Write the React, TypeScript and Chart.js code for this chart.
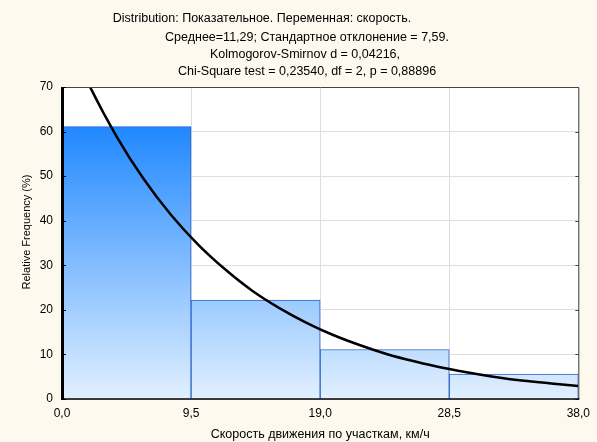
import { useEffect, useRef } from 'react';
import { Chart, registerables } from 'chart.js';

Chart.register(...registerables);

// Histogram bins (km/h) and relative frequencies (%)
const binCenters = [4.75, 14.25, 23.75, 33.25];
const binFreq = [61.1, 22.2, 11.1, 5.6];

// Fitted exponential curve
const curveX = [0, 1, 2, 4, 6, 8, 10, 12, 14, 16, 18, 20, 22, 24, 26, 28, 30, 32, 34, 36, 38];
const curveY = [84.1, 77.0, 70.4, 59.0, 49.4, 41.4, 34.7, 29.1, 24.3, 20.4, 17.1, 14.3, 12.0, 10.0, 8.4, 7.0, 5.9, 4.9, 4.1, 3.5, 2.9];

const xTicks = [0, 9.5, 19, 28.5, 38];
const yTicks = [0, 10, 20, 30, 40, 50, 60, 70];

const titleLines = [
  'Distribution: Показательное. Переменная: скорость.',
  'Среднее=11,29; Стандартное отклонение = 7,59.',
  'Kolmogorov-Smirnov d = 0,04216,',
  'Chi-Square test = 0,23540, df = 2, p = 0,88896',
];
const xTitle = 'Скорость движения по участкам, км/ч';
const yTitle = 'Relative Frequency (%)';

const FONT_FAMILY = 'Arial, "Liberation Sans", sans-serif';
const BG = '#fdf9ee';

export default function App() {
  const ref = useRef<HTMLCanvasElement>(null);

  useEffect(() => {
    document.body.style.margin = '0';
    const canvas = ref.current;
    if (!canvas) return;

    const font = { family: FONT_FAMILY, size: 12 };

    const decor = {
      id: 'decor',
      beforeDraw(chart: any) {
        const { ctx, chartArea: a, width, height } = chart;
        ctx.save();
        ctx.fillStyle = BG;
        ctx.fillRect(0, 0, width, height);
        ctx.fillStyle = '#ffffff';
        ctx.fillRect(a.left, a.top, a.right - a.left, a.bottom - a.top);
        ctx.restore();
      },
      afterDraw(chart: any) {
        const { ctx, chartArea: a } = chart;
        const ys = chart.scales.y;
        ctx.save();
        // top & right frame
        ctx.strokeStyle = '#444';
        ctx.lineWidth = 1;
        ctx.beginPath();
        ctx.moveTo(a.left, a.top + 0.5);
        ctx.lineTo(a.right + 0.5, a.top + 0.5);
        ctx.lineTo(a.right + 0.5, a.bottom);
        ctx.stroke();
        // right axis small ticks
        ctx.beginPath();
        yTicks.forEach((v) => {
          const py = Math.round(ys.getPixelForValue(v)) + 0.5;
          ctx.moveTo(a.right - 3, py);
          ctx.lineTo(a.right + 0.5, py);
        });
        ctx.stroke();
        // bottom axis
        ctx.strokeStyle = '#000';
        ctx.lineWidth = 1.5;
        ctx.beginPath();
        ctx.moveTo(a.left, a.bottom);
        ctx.lineTo(a.right + 1, a.bottom);
        ctx.stroke();
        // left axis (thick)
        ctx.lineWidth = 3;
        ctx.beginPath();
        ctx.moveTo(a.left + 0.5, a.top);
        ctx.lineTo(a.left + 0.5, a.bottom + 1);
        ctx.stroke();
        // left inward ticks
        ctx.lineWidth = 1;
        ctx.beginPath();
        yTicks.forEach((v) => {
          const py = Math.round(ys.getPixelForValue(v)) + 0.5;
          ctx.moveTo(a.left, py);
          ctx.lineTo(a.left + 4, py);
        });
        ctx.stroke();
        // header text
        ctx.fillStyle = '#000';
        ctx.font = `12.5px ${FONT_FAMILY}`;
        ctx.textAlign = 'center';
        ctx.textBaseline = 'middle';
        const cx = [262, 307, 305, 307];
        const cy = [19, 38, 55, 72];
        titleLines.forEach((t, i) => ctx.fillText(t, cx[i], cy[i]));
        // y axis title
        ctx.font = `11px ${FONT_FAMILY}`;
        ctx.translate(27, 232);
        ctx.rotate(-Math.PI / 2);
        ctx.fillText(yTitle, 0, 0);
        ctx.restore();
      },
    };

    const gradFn = (c: any) => {
      const chart = c.chart;
      const area = chart.chartArea;
      if (!area) return '#6aaeff';
      const ys = chart.scales.y;
      const g = chart.ctx.createLinearGradient(0, ys.getPixelForValue(61.1), 0, ys.getPixelForValue(0));
      g.addColorStop(0, 'rgb(32,136,255)');
      g.addColorStop(1, 'rgb(226,240,255)');
      return g;
    };

    const chart = new Chart(canvas, {
      type: 'bar',
      data: {
        datasets: [
          {
            type: 'line',
            data: curveX.map((x, i) => ({ x, y: curveY[i] })),
            borderColor: '#000',
            borderWidth: 2.5,
            pointRadius: 0,
            cubicInterpolationMode: 'monotone',
            order: 0,
          } as any,
          {
            type: 'bar',
            data: binCenters.map((x, i) => ({ x, y: binFreq[i] })),
            backgroundColor: gradFn,
            borderColor: '#2a62d0',
            borderWidth: 1,
            categoryPercentage: 1,
            barPercentage: 1,
            order: 1,
          } as any,
        ],
      },
      options: {
        responsive: false,
        animation: false,
        devicePixelRatio: 1,
        layout: { padding: { top: 87, right: 16, left: 0, bottom: 0 } },
        plugins: {
          legend: { display: false },
          tooltip: { enabled: false },
          title: { display: false },
        },
        scales: {
          x: {
            type: 'linear',
            min: 0,
            max: 38,
            offset: false,
            afterBuildTicks: (s: any) => {
              s.ticks = xTicks.map((v) => ({ value: v }));
            },
            afterFit: (s: any) => {
              s.height = 43;
            },
            ticks: {
              font,
              color: '#000',
              padding: 7,
              maxRotation: 0,
              autoSkip: false,
              callback: (v: any) => Number(v).toFixed(1).replace('.', ','),
            },
            grid: { color: '#dedede', drawTicks: false, offset: false },
            border: { display: false },
            title: { display: true, text: xTitle, font: { family: FONT_FAMILY, size: 12.5 }, color: '#000', padding: { top: 0, bottom: 0 } },
          },
          y: {
            type: 'linear',
            min: 0,
            max: 70,
            afterBuildTicks: (s: any) => {
              s.ticks = yTicks.map((v) => ({ value: v }));
            },
            afterFit: (s: any) => {
              s.width = 62;
            },
            ticks: { font, color: '#000', padding: 9 },
            grid: { color: '#dedede', drawTicks: false },
            border: { display: false },
            title: { display: false },
          },
        },
      } as any,
      plugins: [decor],
    });

    return () => chart.destroy();
  }, []);

  return <canvas ref={ref} width={597} height={442} style={{ display: 'block' }} />;
}
